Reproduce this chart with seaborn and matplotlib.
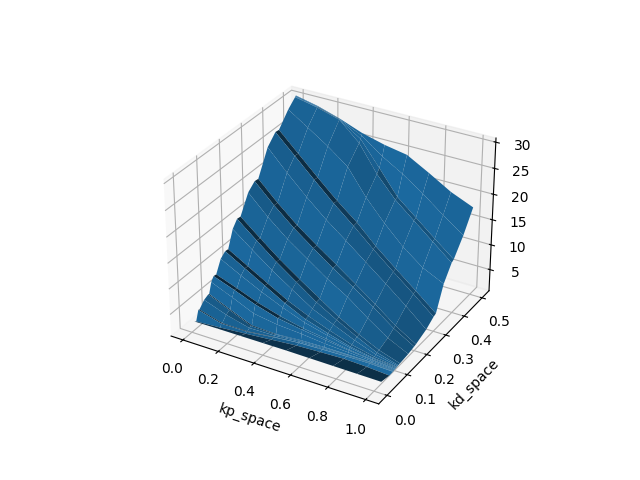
import numpy as np
import seaborn as sns
import matplotlib
matplotlib.use("Agg")
import matplotlib.pyplot as plt

kp_space = [0, .125, .25, .375, .5, .625, .75, .875, 1]

kd_rows = [
 [.012,.015,.018,.021,.024,.026,.029,.032,.035],
 [.02,.03,.045,.06,.072,.078,.082,.08,.075],
 [.031,.035,.05,.07,.084,.089,.093,.095,.093],
 [.036,.039,.053,.072,.085,.09,.094,.096,.094],
 [.058,.058,.062,.076,.089,.093,.097,.098,.096],
 [.077,.073,.07,.08,.092,.096,.099,.1,.098],
 [.081,.077,.074,.083,.094,.098,.1,.101,.099],
 [.092,.087,.083,.088,.097,.101,.103,.104,.1015],
 [.103,.097,.091,.092,.1,.104,.106,.106,.104],
 [.115,.109,.103,.104,.106,.108,.108,.108,.106],
 [.137,.129,.121,.116,.112,.111,.111,.11,.109],
 [.158,.147,.136,.125,.116,.114,.113,.112,.112],
 [.172,.161,.15,.139,.13,.124,.12,.117,.114],
 [.195,.183,.171,.16,.15,.141,.133,.124,.117],
 [.216,.204,.192,.181,.169,.157,.145,.13,.12],
 [.232,.22,.208,.197,.185,.168,.155,.14,.128],
 [.27,.258,.246,.234,.222,.21,.198,.184,.17],
 [.301,.288,.276,.263,.25,.238,.225,.213,.2],
 [.318,.305,.293,.28,.267,.25,.235,.222,.209],
 [.365,.352,.34,.327,.314,.301,.288,.275,.262],
 [.403,.39,.377,.364,.352,.339,.326,.313,.3],
 [.42,.407,.394,.381,.369,.351,.338,.325,.312],
 [.466,.455,.445,.434,.415,.395,.375,.36,.35],
 [.5,.502,.503,.492,.47,.45,.43,.41,.39],
 [.501,.503,.504,.499,.482,.461,.441,.421,.401],
 [.503,.504,.505,.504,.497,.486,.475,.463,.45],
 [.504,.505,.506,.507,.508,.508,.506,.503,.5],
]

z_rows = [
 [2.4,2.3,2.15,2,1.85,1.7,1.5,1.3,1.1],
 [2.1,1.9,1.5,1.15,.95,.85,.8,.75,.72],
 [4,2.5,1.7,1.25,1,.9,.85,.8,.75],
 [3.9,2.45,1.68,1.24,1.02,.93,.87,.81,.76],
 [5,3.4,2,1.35,1.05,.97,.9,.83,.77],
 [5.4,3.8,2.1,1.4,1.1,1,.92,.85,.78],
 [5.35,3.75,2.08,1.39,1.15,1.05,.95,.86,.79],
 [7.3,5.8,4.1,3.1,2.3,1.6,1.25,.95,.8],
 [8.1,6.9,5.6,4.2,3,2.2,1.5,1.05,.82],
 [8,6.8,5.5,4.15,3.05,2.3,1.55,1.07,.83],
 [10.3,8.6,7,5.4,4,2.9,1.85,1.2,.85],
 [11.1,9.4,7.7,6,4.5,3.2,2,1.25,.87],
 [11,9.3,7.6,5.95,4.6,3.35,2.1,1.3,.88],
 [14.2,11.8,9.5,7.4,5.3,3.9,2.5,1.45,.92],
 [15.5,12.9,10.4,8.1,5.9,4.2,2.7,1.6,.95],
 [15.4,12.8,10.3,8.05,6,4.35,2.8,1.7,1],
 [18.9,15.7,13,10.8,8.6,6.8,4.4,2.4,1.2],
 [20.1,17,14.2,11.9,9.7,7.7,5.6,3.2,1.5],
 [20,16.9,14.1,11.85,9.75,7.85,5.8,3.4,1.6],
 [24.7,21.3,18.1,15.3,12.9,10.4,7.9,5.3,2.5],
 [26.5,23.4,20.3,17.3,14.5,11.6,8.9,6.3,3.6],
 [26.4,23.3,20.2,17.25,14.6,11.8,9.1,6.5,3.8],
 [29,26.9,24.7,22.2,18,14.8,12.1,9.8,8.3],
 [30.4,29.4,28.1,25,20.8,17.6,15.4,13.2,11],
 [30.45,29.45,28.1,25.6,21.6,17.8,15.6,13.4,11.3],
 [30.55,29.55,28.15,26.1,23.4,21.5,19.2,16.6,14.3],
 [30.6,29.6,28.2,26.5,25.3,24.5,22.2,19.8,18.1],
]

blue = sns.color_palette("tab10")[0]

fig = plt.figure(figsize=(6.4, 4.8), dpi=100)
ax = fig.add_subplot(projection="3d")

Y = np.array(kd_rows)
X = np.tile(np.array(kp_space), (Y.shape[0], 1))
Z = np.array(z_rows)
ax.plot_surface(X, Y, Z, rstride=1, cstride=1, color=blue, linewidth=0, antialiased=True)

ax.set_xlim(-0.068, 1.068)
ax.set_ylim(-0.04, 0.54)
ax.set_zlim(0.69, 30.78)
ax.set_xlabel("kp_space")
ax.set_ylabel("kd_space")
fig.savefig("out.png", dpi=100)
